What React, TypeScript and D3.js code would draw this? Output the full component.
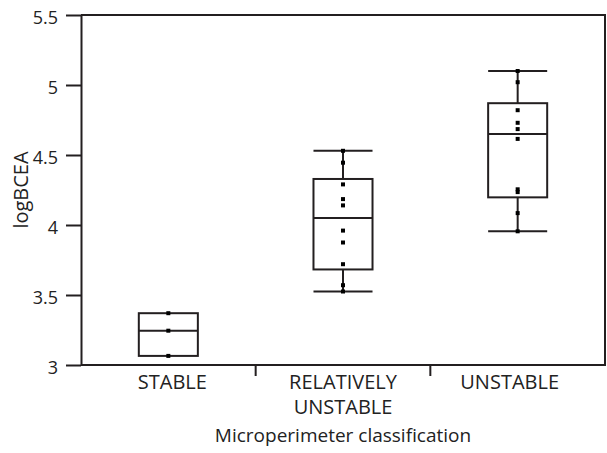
import * as d3 from "d3";
import { useEffect, useRef } from "react";

// values
const categories = ["STABLE", "RELATIVELY UNSTABLE", "UNSTABLE"];
const categoryLines = [["STABLE"], ["RELATIVELY", "UNSTABLE"], ["UNSTABLE"]];
const stableValues = [3.37, 3.245, 3.065];
const relUnstableValues = [4.53, 4.445, 4.29, 4.185, 4.14, 3.96, 3.875, 3.72, 3.57, 3.525];
const unstableValues = [5.1, 5.02, 4.82, 4.73, 4.685, 4.615, 4.255, 4.235, 4.085, 3.955];
const yTicks = [3, 3.5, 4, 4.5, 5, 5.5];

const seriesValues = [stableValues, relUnstableValues, unstableValues];

const W = 607;
const H = 453;
const margin = { top: 15, right: 2, bottom: 88, left: 81 };
const ink = "#231f20";
const font = "'Open Sans', sans-serif";
// labels in the original are not exactly centred on their bands
const labelNudge = [4, 0, -8];

// quantile with (n+1)p positions, as in the original stats package
const quant = (sorted: number[], p: number) => {
  const n = sorted.length;
  const pos = (n + 1) * p;
  if (pos <= 1) return sorted[0];
  if (pos >= n) return sorted[n - 1];
  const lo = Math.floor(pos);
  return sorted[lo - 1] + (pos - lo) * (sorted[lo] - sorted[lo - 1]);
};

const App = () => {
  const chartRef = useRef<SVGSVGElement>(null);

  useEffect(() => {
    const svg = d3.select(chartRef.current);
    svg.selectAll("*").remove();

    const x0 = margin.left;
    const x1 = W - margin.right;
    const yTop = margin.top;
    const yBot = H - margin.bottom;

    const scaleX = d3.scaleBand<string>().domain(categories).range([x0, x1]).padding(0);
    const scaleY = d3.scaleLinear().domain([3, 5.5]).range([yBot, yTop]);

    // y axis
    const yAxis = d3
      .axisLeft(scaleY)
      .tickValues(yTicks)
      .tickFormat((d) => String(d))
      .tickSize(15)
      .tickSizeOuter(0)
      .tickPadding(8);
    const gy = svg.append("g").attr("transform", `translate(${x0},0)`).call(yAxis);
    gy.selectAll("path,line").attr("stroke", ink).attr("stroke-width", 2);
    gy.selectAll("text")
      .attr("fill", "#222")
      .attr("dy", "0.45em")
      .style("font-family", font)
      .style("font-size", "18px");

    // frame: top, right, bottom
    svg
      .append("path")
      .attr("d", `M${x0},${yTop}H${x1}V${yBot}H${x0}`)
      .attr("fill", "none")
      .attr("stroke", ink)
      .attr("stroke-width", 2);

    // x ticks sit between the categories
    categories.slice(1).forEach((c) => {
      const xx = scaleX(c)!;
      svg
        .append("line")
        .attr("x1", xx)
        .attr("x2", xx)
        .attr("y1", yBot)
        .attr("y2", yBot + 11)
        .attr("stroke", ink)
        .attr("stroke-width", 2);
    });

    // category labels
    categories.forEach((c, i) => {
      const cx = scaleX(c)! + scaleX.bandwidth() / 2 + labelNudge[i];
      categoryLines[i].forEach((line, j) => {
        svg
          .append("text")
          .attr("x", cx)
          .attr("y", yBot + 24 + j * 25)
          .attr("text-anchor", "middle")
          .attr("fill", "#222")
          .style("font-family", font)
          .style("font-size", "20px")
          .text(line);
      });
    });

    // axis titles
    svg
      .append("text")
      .attr("x", (x0 + x1) / 2)
      .attr("y", H - 11)
      .attr("text-anchor", "middle")
      .attr("fill", "#222")
      .style("font-family", font)
      .style("font-size", "19px")
      .text("Microperimeter classification");

    svg
      .append("text")
      .attr("transform", `translate(28,190) rotate(-90)`)
      .attr("text-anchor", "middle")
      .attr("fill", "#222")
      .style("font-family", font)
      .style("font-size", "20px")
      .text("logBCEA");

    // boxes
    const boxW = scaleX.bandwidth() * 0.338;
    seriesValues.forEach((vals, i) => {
      const sorted = [...vals].sort(d3.ascending);
      const q1 = quant(sorted, 0.25);
      const med = quant(sorted, 0.5);
      const q3 = quant(sorted, 0.75);
      const lo = d3.min(sorted)!;
      const hi = d3.max(sorted)!;
      const cx = scaleX(categories[i])! + scaleX.bandwidth() / 2;
      const g = svg.append("g").attr("stroke", ink).attr("stroke-width", 2).attr("fill", "none");

      if (hi > q3) {
        g.append("line").attr("x1", cx).attr("x2", cx).attr("y1", scaleY(hi)).attr("y2", scaleY(q3));
        g.append("line")
          .attr("x1", cx - boxW / 2)
          .attr("x2", cx + boxW / 2)
          .attr("y1", scaleY(hi))
          .attr("y2", scaleY(hi));
      }
      if (lo < q1) {
        g.append("line").attr("x1", cx).attr("x2", cx).attr("y1", scaleY(q1)).attr("y2", scaleY(lo));
        g.append("line")
          .attr("x1", cx - boxW / 2)
          .attr("x2", cx + boxW / 2)
          .attr("y1", scaleY(lo))
          .attr("y2", scaleY(lo));
      }
      g.append("rect")
        .attr("x", cx - boxW / 2)
        .attr("y", scaleY(q3))
        .attr("width", boxW)
        .attr("height", scaleY(q1) - scaleY(q3));
      g.append("line")
        .attr("x1", cx - boxW / 2)
        .attr("x2", cx + boxW / 2)
        .attr("y1", scaleY(med))
        .attr("y2", scaleY(med));

      svg
        .selectAll(`.pt-${i}`)
        .data(vals)
        .enter()
        .append("rect")
        .attr("x", cx - 2)
        .attr("y", (d) => scaleY(d) - 2)
        .attr("width", 4)
        .attr("height", 4)
        .attr("fill", "#000");
    });
  }, []);

  return (
    <svg
      ref={chartRef}
      width={W}
      height={H}
      style={{ position: "absolute", left: 0, top: 0, background: "#fff" }}
    ></svg>
  );
};

export default App;
